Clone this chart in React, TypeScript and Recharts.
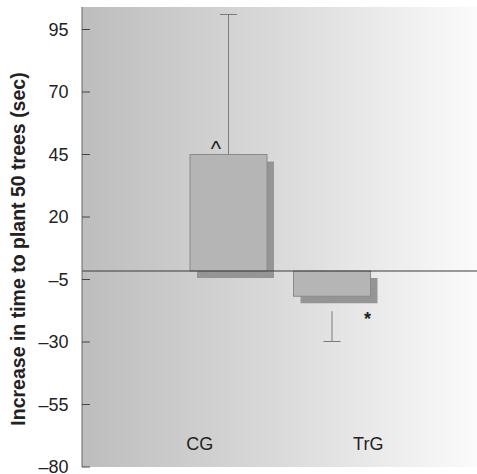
import React from "react";
import {
  Bar,
  CartesianGrid,
  ComposedChart,
  LabelList,
  ReferenceLine,
  XAxis,
  YAxis,
} from "recharts";

// values
const groups = ["CG", "TrG"];
const meanChange = [45, -11.7];
const baseline = -1.6;
const whiskerFrom = [45, -17.7];
const whiskerTo = [101, -29.8];
const marks = ["^", "*"];
const yTicks = [95, 70, 45, 20, -5, -30, -55, -80];

const data = groups.map((group, i) => ({
  group,
  bar: [baseline, meanChange[i]],
  whisker: [whiskerFrom[i], whiskerTo[i]],
  mark: marks[i],
}));

const FONT = "'Liberation Sans', Arial, Helvetica, sans-serif";
const SHADOW = 7;
const labelShift: Record<string, number> = { CG: -29, TrG: 36 };

const fmt = (v: number) => (v < 0 ? `\u2013${Math.abs(v)}` : `${v}`);

function ShadowBar(props: any) {
  const { x, y, width, height } = props;
  const top = Math.min(y, y + height);
  const h = Math.abs(height);
  return (
    <g>
      <rect x={x + SHADOW} y={top + SHADOW} width={width} height={h} fill="#959595" />
      <rect x={x} y={top} width={width} height={h} fill="#b5b5b5" stroke="#8a8a8a" strokeWidth={1} />
    </g>
  );
}

function Whisker(props: any) {
  const { x, y, width, height, payload } = props;
  const top = Math.min(y, y + height);
  const bottom = Math.max(y, y + height);
  const cx = x + width / 2;
  const capY = payload.whisker[1] > payload.whisker[0] ? top : bottom;
  return (
    <g stroke="#7a7a7a" strokeWidth={1}>
      <line x1={cx} x2={cx} y1={top} y2={bottom} />
      <line x1={cx - 8.5} x2={cx + 8.5} y1={capY} y2={capY} />
    </g>
  );
}

function MarkLabel(props: any) {
  const { x, y, width, height, value } = props;
  const top = Math.min(y, y + height);
  const bottom = Math.max(y, y + height);
  if (value === "^") {
    return (
      <text x={x + 26} y={top + 1} textAnchor="middle" fontSize={22} fill="#222" fontFamily={FONT}>
        {value}
      </text>
    );
  }
  return (
    <text x={x + width - 3} y={bottom + 29} textAnchor="middle" fontSize={18} fontWeight="bold" fill="#222" fontFamily={FONT}>
      {value}
    </text>
  );
}

function YTick(props: any) {
  const { x, y, payload } = props;
  return (
    <g>
      <line x1={x} x2={x + 8} y1={y} y2={y} stroke="#444" strokeWidth={1} />
      <text x={x - 13.5} y={y} dy={6} textAnchor="end" fontSize={18} fill="#222" fontFamily={FONT}>
        {fmt(payload.value)}
      </text>
    </g>
  );
}

function XTick(props: any) {
  const { x, payload } = props;
  return (
    <text x={x + (labelShift[payload.value] ?? 0)} y={450} textAnchor="middle" fontSize={18} fill="#222" fontFamily={FONT}>
      {payload.value}
    </text>
  );
}

function YTitle() {
  return (
    <text
      transform="translate(25, 249) rotate(-90)"
      textAnchor="middle"
      fontSize={19.5}
      fontWeight="bold"
      fill="#222"
      fontFamily={FONT}
    >
      Increase in time to plant 50 trees (sec)
    </text>
  );
}

export default function App() {
  return (
    <div style={{ position: "absolute", left: 0, top: 0, fontFamily: FONT }}>
      <ComposedChart width={477} height={474} data={data} margin={{ top: 7, right: 0, bottom: 7, left: 0 }}>
        <defs>
          <linearGradient id="bgFade" x1="0" y1="0" x2="1" y2="0">
            <stop offset="0%" stopColor="#bdbdbd" />
            <stop offset="50%" stopColor="#dadada" />
            <stop offset="100%" stopColor="#fbfbfb" />
          </linearGradient>
        </defs>
        <CartesianGrid xAxisId="main" horizontal={false} vertical={false} fill="url(#bgFade)" stroke="none" />
        <XAxis
          xAxisId="main"
          dataKey="group"
          mirror
          padding={{ left: 95, right: 93 }}
          axisLine={false}
          tickLine={false}
          tickSize={0}
          tickMargin={0}
          tick={<XTick />}
          interval={0}
        />
        <XAxis xAxisId="err" dataKey="group" hide padding={{ left: 95, right: 93 }} />
        <YAxis
          width={82}
          domain={[-80, 104]}
          ticks={yTicks}
          allowDataOverflow
          axisLine={{ stroke: "#666", strokeWidth: 1 }}
          tickLine={false}
          tickSize={0}
          tickMargin={0}
          tick={<YTick />}
          interval={0}
          label={{ content: () => <YTitle /> }}
        />
        <Bar xAxisId="main" dataKey="bar" barSize={77} shape={<ShadowBar />} isAnimationActive={false}>
          <LabelList dataKey="mark" content={<MarkLabel />} />
        </Bar>
        <Bar xAxisId="err" dataKey="whisker" barSize={77} shape={<Whisker />} isAnimationActive={false} />
        <ReferenceLine xAxisId="main" y={baseline} stroke="#3a3a3a" strokeWidth={1.2} />
      </ComposedChart>
    </div>
  );
}
